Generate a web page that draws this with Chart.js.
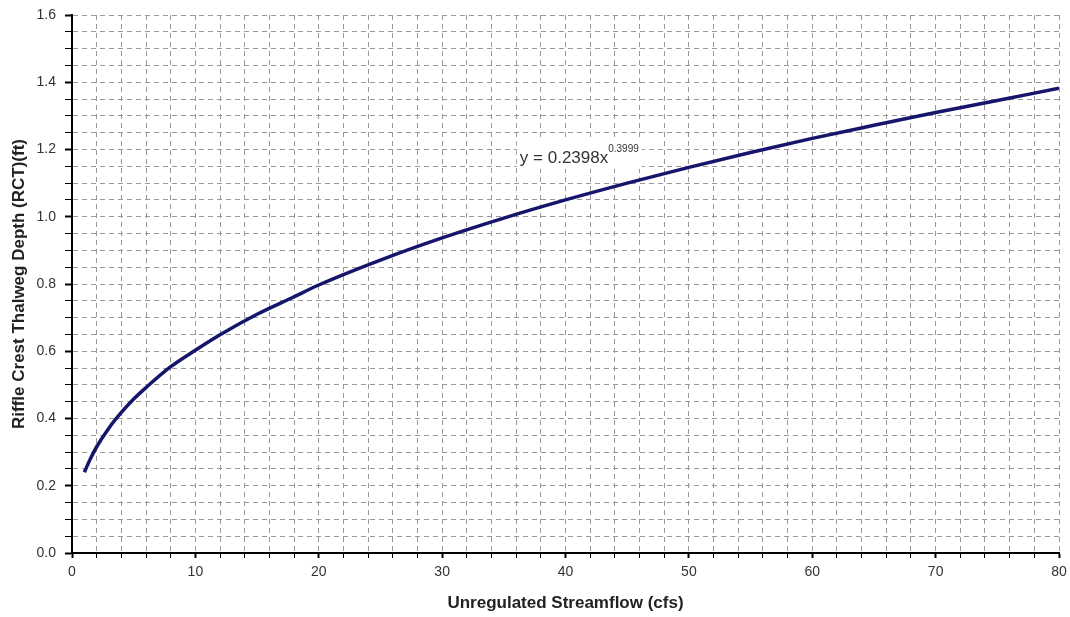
<!DOCTYPE html>
<html><head><meta charset="utf-8">
<script src="https://cdn.jsdelivr.net/npm/chart.js@4"></script>
<style>html,body{margin:0;padding:0;background:#fff}#wrap{width:1070px;height:617px}</style>
</head><body><div id="wrap"><canvas id="c" width="1070" height="617"></canvas></div>
<script>
const flowCfs = [1, 1.5, 2, 3, 4, 5, 6, 8, 10, 12, 15, 18, 20, 25, 30, 35, 40, 45, 50, 55, 60, 65, 70, 75, 80];
const depthFt = [0.240, 0.281, 0.316, 0.372, 0.418, 0.458, 0.492, 0.554, 0.603, 0.649, 0.710, 0.762, 0.797, 0.871, 0.937, 0.996, 1.050, 1.100, 1.147, 1.191, 1.233, 1.272, 1.310, 1.346, 1.382];
const xTickLabels = [0, 10, 20, 30, 40, 50, 60, 70, 80];
const yTickLabels = ['0.0','0.2','0.4','0.6','0.8','1.0','1.2','1.4','1.6'];
const equationText = 'y = 0.2398x';
const equationExp = '0.3999';

const ff = '"Liberation Sans", Arial, sans-serif';
const eqPlugin = {
  id: 'eq',
  afterDatasetsDraw(chart) {
    const ctx = chart.ctx, xs = chart.scales.x, ys = chart.scales.y;
    const px = xs.getPixelForValue(36.3), py = ys.getPixelForValue(1.175);
    ctx.save();
    ctx.font = '17px ' + ff;
    const w = ctx.measureText(equationText).width;
    ctx.font = '10px ' + ff;
    const w2 = ctx.measureText(equationExp).width;
    ctx.fillStyle = '#fff';
    ctx.fillRect(px - 3, py - 17, w + w2 + 6, 28);
    ctx.fillStyle = '#333';
    ctx.textBaseline = 'middle';
    ctx.font = '17px ' + ff;
    ctx.fillText(equationText, px, py);
    ctx.font = '10px ' + ff;
    ctx.fillText(equationExp, px + w, py - 9);
    ctx.restore();
  }
};

new Chart(document.getElementById('c'), {
  type: 'line',
  data: { datasets: [{
    data: flowCfs.map((x, i) => ({x, y: depthFt[i]})),
    borderColor: '#15156c', borderWidth: 3.5, pointRadius: 0,
    cubicInterpolationMode: 'monotone', fill: false
  }]},
  options: {
    responsive: false, animation: false,
    plugins: { legend: {display: false}, tooltip: {enabled: false} },
    layout: { padding: 0 },
    scales: {
      x: {
        type: 'linear', min: 0, max: 80,
        afterFit(s) { s.height = 64; s.paddingRight = 11; s.paddingLeft = 0; },
        ticks: { stepSize: 2, autoSkip: false, maxRotation: 0, color: '#333', padding: 6,
          font: {family: ff, size: 14},
          callback: v => xTickLabels.includes(Math.round(v)) && Math.abs(v % 10) < 1e-6 ? String(Math.round(v)) : '' },
        grid: { color: '#999', lineWidth: 1, tickColor: '#000', tickLength: 5, tickWidth: c => (Math.abs(c.tick.value % 10) < 1e-6 ? 2 : 1), tickBorderDash: [] },
        border: { display: true, color: '#000', width: 2, dash: [5, 4] },
        title: { display: true, text: 'Unregulated Streamflow (cfs)', color: '#222',
          font: {family: ff, size: 17, weight: 'bold'}, padding: {top: 8, bottom: 3} }
      },
      y: {
        type: 'linear', min: 0, max: 1.6,
        afterFit(s) { s.width = 72; s.paddingTop = 15; s.paddingBottom = 0; },
        ticks: { stepSize: 0.05, autoSkip: false, color: '#333', padding: 9,
          font: {family: ff, size: 14},
          callback: v => { const k = Math.round(v * 5); return Math.abs(v * 5 - k) < 1e-6 ? yTickLabels[k] : ''; } },
        grid: { color: '#999', lineWidth: 1, tickColor: '#000', tickLength: 7, tickWidth: c => { const k = c.tick.value * 5; return Math.abs(k - Math.round(k)) < 1e-6 ? 2 : 1; }, tickBorderDash: [] },
        border: { display: true, color: '#000', width: 2, dash: [5, 4] },
        title: { display: true, text: 'Riffle Crest Thalweg Depth (RCT)(ft)', color: '#222',
          font: {family: ff, size: 17, weight: 'bold'}, padding: {top: 9, bottom: 4} }
      }
    }
  },
  plugins: [eqPlugin]
});
</script></body></html>
